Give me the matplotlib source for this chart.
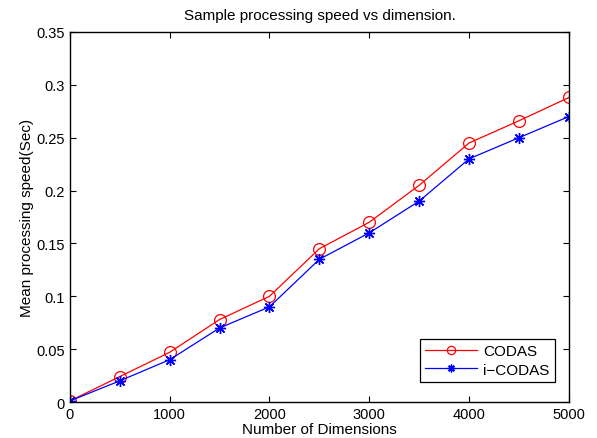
import matplotlib
matplotlib.use('Agg')
import matplotlib.pyplot as plt
import numpy as np

plt.rcParams['font.family'] = ['Liberation Sans', 'DejaVu Sans']

dims = [0, 500, 1000, 1500, 2000, 2500, 3000, 3500, 4000, 4500, 5000]
codas = [0.001, 0.024, 0.047, 0.078, 0.100, 0.145, 0.170, 0.205, 0.245, 0.266, 0.288]
icodas = [0.001, 0.020, 0.040, 0.070, 0.090, 0.135, 0.160, 0.190, 0.230, 0.250, 0.270]

fig = plt.figure(figsize=(5.97, 4.39), dpi=100)
ax = fig.add_axes([0.117, 0.082, 0.836, 0.843])

ax.plot(dims, codas, color='red', marker='o', markersize=8.5, markerfacecolor='none',
        markeredgecolor='red', markeredgewidth=0.9, linewidth=0.9, label='CODAS')
ax.plot(dims, icodas, color='blue', marker=(8, 2, 0), markersize=8, markeredgewidth=1.0,
        linewidth=0.9, label='i\u2212CODAS')

ax.set_xlim(0, 5000)
ax.set_ylim(0, 0.35)
ax.set_xticks([0, 1000, 2000, 3000, 4000, 5000])
ax.set_yticks([0, 0.05, 0.1, 0.15, 0.2, 0.25, 0.3, 0.35])
ax.set_yticklabels(['0', '0.05', '0.1', '0.15', '0.2', '0.25', '0.3', '0.35'])
ax.tick_params(direction='in', top=True, right=True, labelsize=10.5, length=4)
for s in ax.spines.values():
    s.set_linewidth(1.0)

ax.set_xlabel('Number of Dimensions', fontsize=11, labelpad=1)
ax.set_ylabel('Mean processing speed(Sec)', fontsize=11, labelpad=2)
ax.set_title('Sample processing speed vs dimension.', fontsize=11, pad=9)

leg = ax.legend(loc='lower right', bbox_to_anchor=(0.972, 0.054), fontsize=11,
                fancybox=False, framealpha=1, edgecolor='black', borderaxespad=0,
                handlelength=3.4, markerscale=0.7, borderpad=0.35,
                labelspacing=0.3, handletextpad=0.4)
leg.get_frame().set_linewidth(0.9)

fig.savefig('out.png', dpi=100)
